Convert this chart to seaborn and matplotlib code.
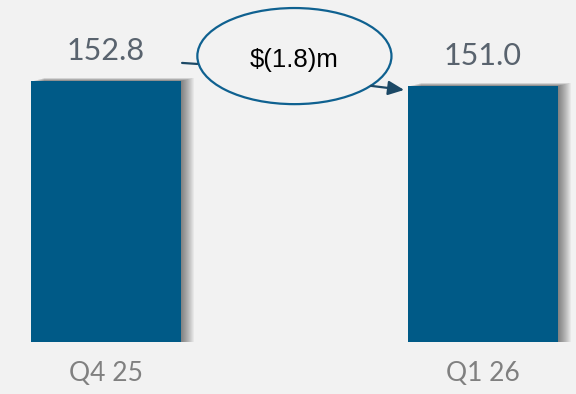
import matplotlib
matplotlib.use("Agg")
import matplotlib.pyplot as plt
from matplotlib.patches import Ellipse, Rectangle
from matplotlib.transforms import ScaledTranslation, blended_transform_factory
import seaborn as sns
import pandas as pd

# Quarterly figures ($m)
quarters = ["Q4 25", "Q1 26"]
revenue = [152.8, 151.0]

BAR = "#005a87"
BG = "#f2f2f2"
VALUE_GREY = "#59636e"
TICK_GREY = "#808080"
RING = "#0f6190"
ARROW = "#1c4966"

sns.set_theme(style="white", rc={"axes.facecolor": BG, "figure.facecolor": BG})
plt.rcParams["font.family"] = ["Lato", "DejaVu Sans"]

fig = plt.figure(figsize=(5.76, 3.94), dpi=100)
ax = fig.add_axes([0, 0.132, 1, 0.868])

df = pd.DataFrame({"quarter": quarters, "value": revenue})
sns.barplot(data=df, x="quarter", y="value", color=BAR, saturation=1,
            width=0.398, linewidth=0, ax=ax)
ax.set_xlim(-0.281, 1.247)
ax.set_ylim(59, 182)

bars = list(ax.containers[0])
for p in bars:
    p.set_edgecolor("none")
    p.set_linewidth(0)
    p.set_zorder(2)

# soft drop shadow to the right of each bar
for p in bars:
    for k in range(1, 14):
        off = ScaledTranslation(k / 100, 0.25 * k / 100, fig.dpi_scale_trans)
        sh = Rectangle((p.get_x(), p.get_y()), p.get_width(), p.get_height(),
                       transform=ax.transData + off, facecolor="black",
                       edgecolor="none", alpha=0.045, zorder=1)
        ax.add_patch(sh)

ax.bar_label(ax.containers[0], labels=[f"{v:.1f}" for v in revenue],
             padding=12, fontsize=22, color=VALUE_GREY)

ax.set_xlabel("")
ax.set_ylabel("")
ax.set_yticks([])
ax.tick_params(axis="x", length=0, pad=14, labelsize=19, labelcolor=TICK_GREY)
sns.despine(ax=ax, left=True, bottom=True)

# change callout between the two quarters
trans = blended_transform_factory(ax.transData, ax.transAxes)
centers = [p.get_x() + p.get_width() / 2 for p in bars]
mid = sum(centers) / 2
ell_w, ell_h, ell_y = 0.515, 0.281, 0.836
ax.add_patch(Ellipse((mid, ell_y), width=ell_w, height=ell_h, transform=trans,
                     fill=False, edgecolor=RING, lw=1.6, clip_on=False, zorder=3))

delta = revenue[1] - revenue[0]
delta_txt = f"$({abs(delta):.1f})m" if delta < 0 else f"${delta:.1f}m"
ax.text(mid, ell_y - 0.012, delta_txt, transform=trans, ha="center", va="center",
        fontsize=18.5, color="black", family=["Liberation Sans", "DejaVu Sans"],
        zorder=4)

left_edge = bars[0].get_x() + bars[0].get_width()
right_edge = bars[1].get_x()
ax.annotate("", xy=(mid - ell_w / 2, 0.813), xytext=(left_edge + 0.003, 0.816),
            xycoords=trans, textcoords=trans,
            arrowprops=dict(arrowstyle="-", color=ARROW, lw=1.6,
                            shrinkA=0, shrinkB=0))
ax.annotate("", xy=(right_edge - 0.01, 0.737), xytext=(0.703, 0.749),
            xycoords=trans, textcoords=trans,
            arrowprops=dict(arrowstyle="-|>,head_length=0.8,head_width=0.36",
                            color=ARROW, lw=1.6, shrinkA=0, shrinkB=0,
                            mutation_scale=12))

fig.savefig("out.png", dpi=100, facecolor=BG)
